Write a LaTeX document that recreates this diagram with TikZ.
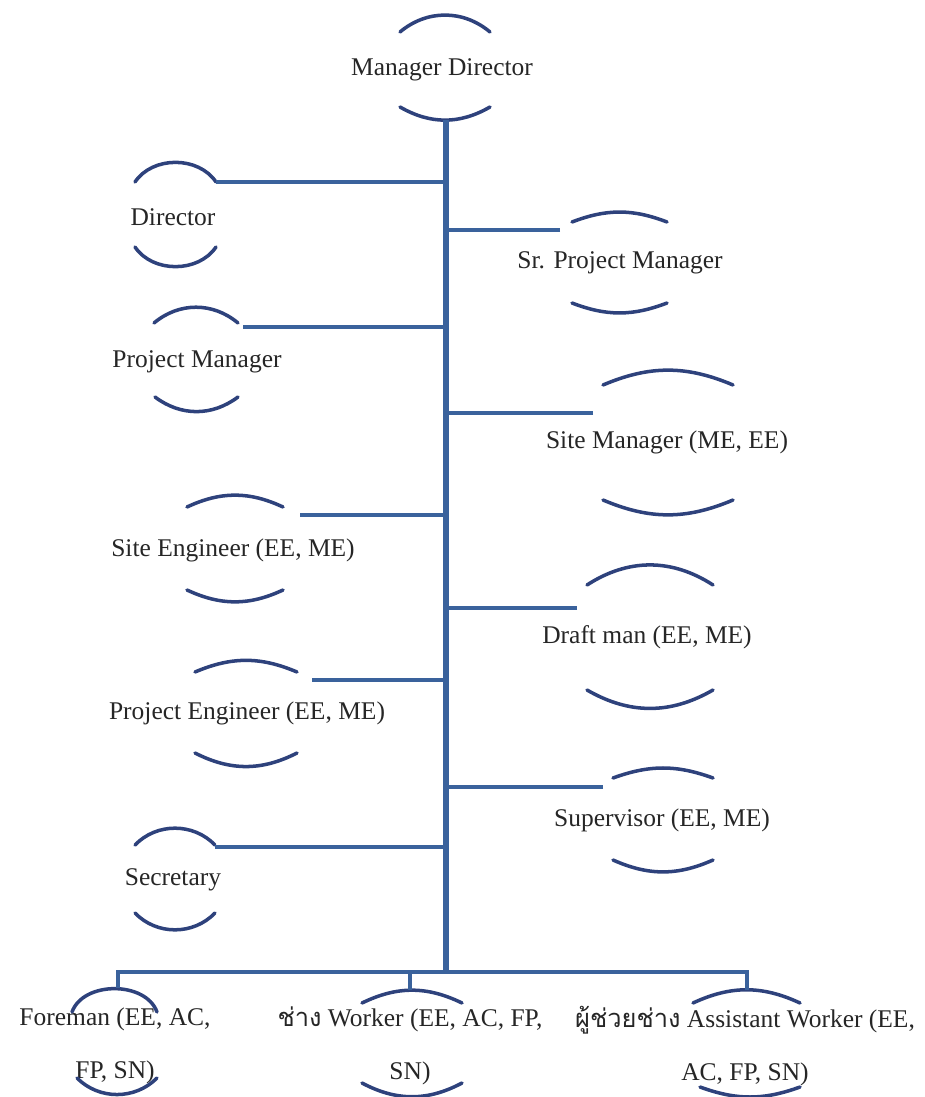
\documentclass[tikz,border=0pt]{standalone}
\usepackage{fontspec}
\setmainfont{Liberation Serif}
\newfontfamily\thaifont[Script=Thai]{Loma}
\usetikzlibrary{calc}
\definecolor{linkblue}{RGB}{58,98,156}
\definecolor{arcblue}{RGB}{46,66,124}
\tikzset{%
    role/.style={inner sep=0pt,outer sep=0pt,align=center,text=black!85,font=\fontsize{14.5}{30}\selectfont},
    link/.style={draw=linkblue,line width=2.3pt},
    trunk/.style={draw=linkblue,line width=2.9pt},
    shell/.style={draw=arcblue,line width=2pt,line cap=round},
}

\begin{document}
\begin{tikzpicture}[x=0.02cm,y=-0.02cm]
        \useasboundingbox (0,0) rectangle (924,1097);
        \node[role] (md) at (442,70) {Manager Director};
        \node[role] (dir) at (173,217) {Director};
        \node[role] (srpm) at (620,263) {Sr. Project Manager};
        \node[role] (pm) at (197,362) {Project Manager};
        \node[role] (sm) at (667,442) {Site Manager (ME, EE)};
        \node[role] (se) at (233,550) {Site Engineer (EE, ME)};
        \node[role] (dm) at (647,637) {Draft man (EE, ME)};
        \node[role] (pe) at (247,713) {Project Engineer (EE, ME)};
        \node[role] (sv) at (662,820) {Supervisor (EE, ME)};
        \node[role] (sec) at (173,880) {Secretary};
        \node[role] (fm) at (115,1046) {Foreman (EE, AC,\\FP, SN)};
        \node[role] (wk) at (410,1046) {{\thaifont ช่าง} Worker (EE, AC, FP,\\SN)};
        \node[role] (as) at (745,1046) {{\thaifont ผู้ช่วยช่าง} Assistant Worker (EE,\\AC, FP, SN)};

        \draw[shell] (400,32) to[bend left=40] (490,32);
        \draw[shell] (400,107) to[bend right=30] (490,107);
        \draw[shell] (135,182) to[bend left=56] (216,182);
        \draw[shell] (135,247) to[bend right=56] (216,247);
        \draw[shell] (572,222) to[bend left=21] (667,222);
        \draw[shell] (572,303) to[bend right=21] (667,303);
        \draw[shell] (154,323) to[bend left=40] (238,323);
        \draw[shell] (155,397) to[bend right=37] (238,397);
        \draw[shell] (603,385) to[bend left=23] (733,385);
        \draw[shell] (603,500) to[bend right=23] (733,500);
        \draw[shell] (187,507) to[bend left=25] (283,507);
        \draw[shell] (187,590) to[bend right=25] (283,590);
        \draw[shell] (587,585) to[bend left=33] (713,585);
        \draw[shell] (587,690) to[bend right=30] (713,690);
        \draw[shell] (195,672) to[bend left=23] (297,672);
        \draw[shell] (195,753) to[bend right=27] (297,753);
        \draw[shell] (613,778) to[bend left=20] (713,778);
        \draw[shell] (613,860) to[bend right=24] (713,860);
        \draw[shell] (135,845) to[bend left=46] (215,845);
        \draw[shell] (135,913) to[bend right=46] (215,913);
        \draw[shell] (72,1012) to[bend left=70] (157,1012);
        \draw[shell] (77,1078) to[bend right=45] (157,1078);
        \draw[shell] (362,1003) to[bend left=26] (462,1003);
        \draw[shell] (362,1083) to[bend right=28] (462,1083);
        \draw[shell] (693,1003) to[bend left=25] (800,1003);
        \draw[shell] (700,1087) to[bend right=20] (800,1087);

        \coordinate (top) at (446,120);
        \coordinate (bottom) at (446,972);
        \coordinate (dir-e) at (216,182);
        \coordinate (srpm-w) at (560,230);
        \coordinate (pm-e) at (243,327);
        \coordinate (sm-w) at (593,413);
        \coordinate (se-e) at (300,515);
        \coordinate (dm-w) at (577,608);
        \coordinate (pe-e) at (312,680);
        \coordinate (sv-w) at (603,787);
        \coordinate (sec-e) at (215,847);
        \coordinate (fm-n) at (118,988);
        \coordinate (wk-n) at (410,990);
        \coordinate (as-n) at (747,990);

        \draw[trunk] (top) -- (bottom);
        \draw[link] (dir-e) -- (dir-e -| top);
        \draw[link] (srpm-w) -- (srpm-w -| top);
        \draw[link] (pm-e) -- (pm-e -| top);
        \draw[link] (sm-w) -- (sm-w -| top);
        \draw[link] (se-e) -- (se-e -| top);
        \draw[link] (dm-w) -- (dm-w -| top);
        \draw[link] (pe-e) -- (pe-e -| top);
        \draw[link] (sv-w) -- (sv-w -| top);
        \draw[link] (sec-e) -- (sec-e -| top);
        \draw[link] (fm-n) -- (fm-n |- bottom) -- (as-n |- bottom) -- (as-n);
        \draw[link] (wk-n) -- (wk-n |- bottom);
    \end{tikzpicture}
\end{document}
